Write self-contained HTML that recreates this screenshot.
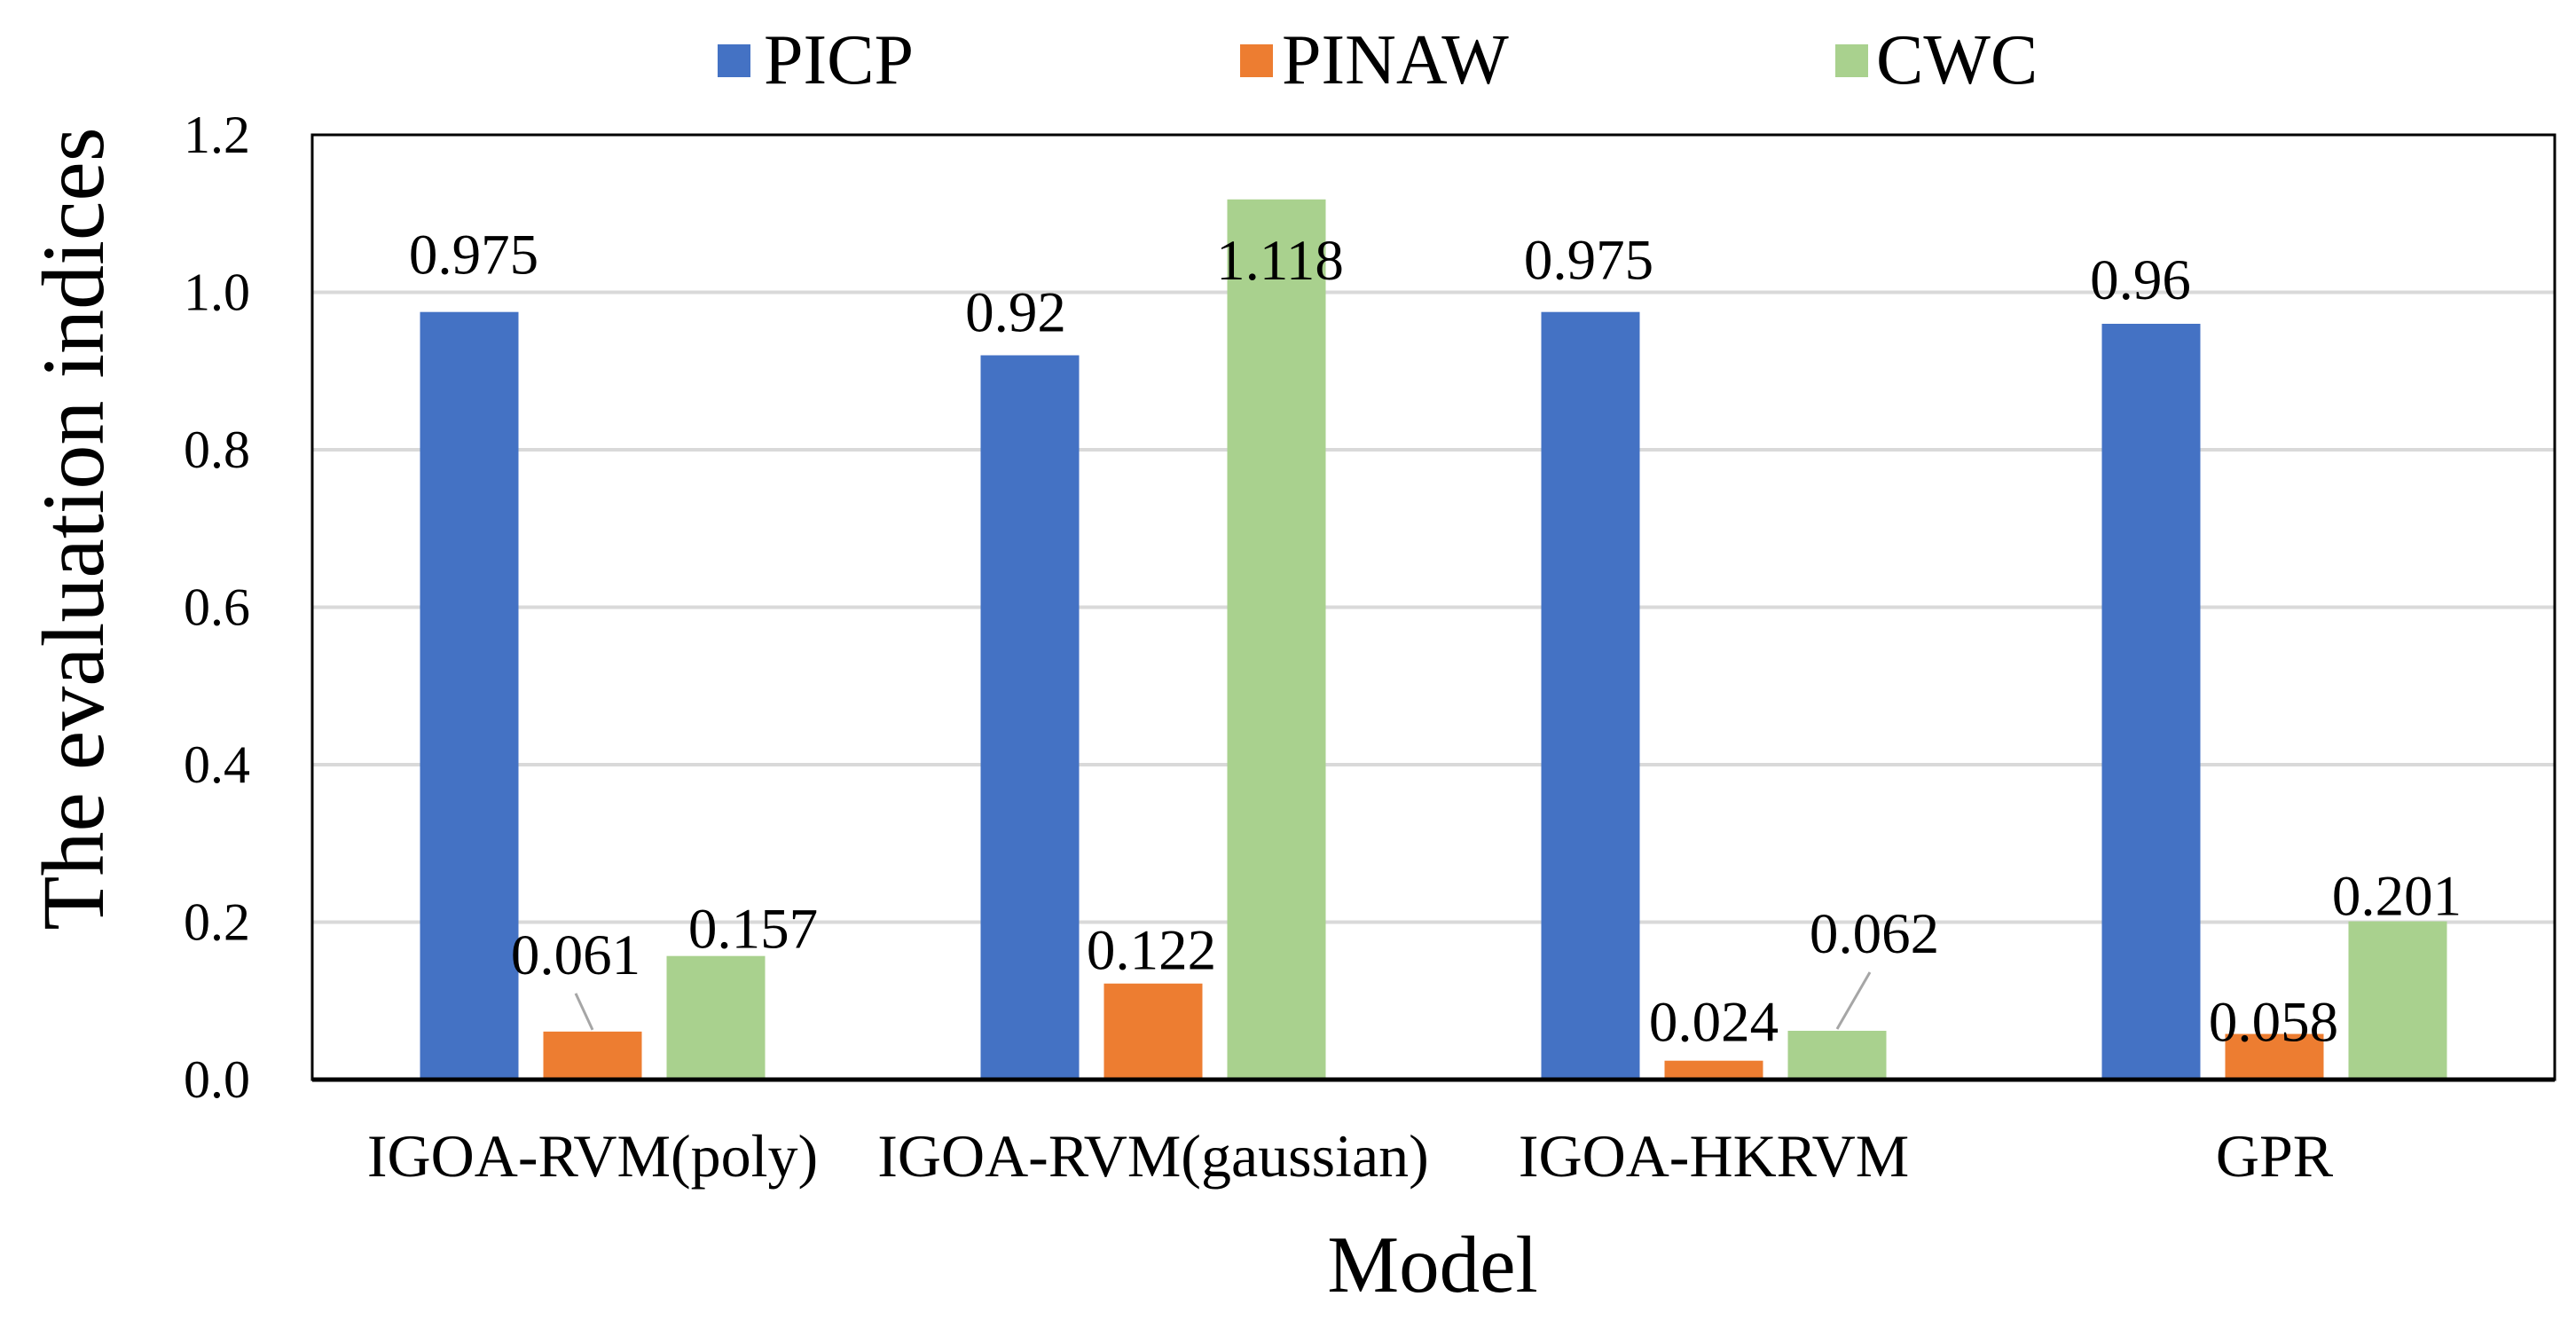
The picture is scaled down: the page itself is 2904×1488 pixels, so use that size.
<!DOCTYPE html>
<html><head><meta charset="utf-8"><style>
html,body{margin:0;padding:0;background:#fff;}
svg{display:block;font-family:"Liberation Serif",serif;}
</style></head><body>
<svg id="chart" width="2904" height="1488" viewBox="0 0 2904 1488" xmlns="http://www.w3.org/2000/svg">
<g id="grid"></g><g id="bars"></g><g id="labels"></g><g id="axes"></g>
<g>
 <rect x="809" y="50" width="37" height="37" fill="#4472C4"/>
 <text x="861" y="94" font-size="80">PICP</text>
 <rect x="1398" y="50" width="37" height="37" fill="#ED7D31"/>
 <text x="1445" y="94" font-size="80">PINAW</text>
 <rect x="2069" y="50" width="37" height="37" fill="#A9D18E"/>
 <text x="2115" y="94" font-size="80">CWC</text>
</g>
<text x="1615" y="1456" font-size="91" text-anchor="middle">Model</text>
<text transform="translate(116,596) rotate(-90)" font-size="100" text-anchor="middle">The evaluation indices</text>
</svg>
<script>
const categories = ["IGOA-RVM(poly)","IGOA-RVM(gaussian)","IGOA-HKRVM","GPR"];
const picp = [0.975,0.92,0.975,0.96];
const pinaw = [0.061,0.122,0.024,0.058];
const cwc = [0.157,1.118,0.062,0.201];
const yTicks = [0,0.2,0.4,0.6,0.8,1.0,1.2];
const tickLabels = ["0.0","0.2","0.4","0.6","0.8","1.0","1.2"];

const NS="http://www.w3.org/2000/svg";
const L=352,R=2880,T=152,B=1217,yMax=1.2;
const y=v=>B-(v/yMax)*(B-T);
const gw=(R-L)/categories.length;
const bw=111, stride=139;
const bx=(i,s)=>L+i*gw+gw/2+(s-1)*stride;
function mk(tag,attrs,parent){const e=document.createElementNS(NS,tag);for(const k in attrs)e.setAttribute(k,attrs[k]);parent.appendChild(e);return e;}
const grid=document.getElementById('grid'),bars=document.getElementById('bars'),labels=document.getElementById('labels'),axes=document.getElementById('axes');
yTicks.forEach((t,i)=>{
  if(t>0&&t<yMax){const g=mk('line',{x1:L,x2:R,y1:y(t),y2:y(t),stroke:'#d9d9d9','stroke-width':4},grid);
  
  }
  const tx=mk('text',{x:282,y:y(t)+20,'font-size':60,'text-anchor':'end'},axes);tx.textContent=tickLabels[i];
  
  
});
const series=[picp,pinaw,cwc],colors=["#4472C4","#ED7D31","#A9D18E"],names=["picp","pinaw","cwc"];
const offs=[[[5,-43],[-19,-65],[42,-9]],[[-16,-27],[-2,-16],[4,90]],[[-2,-37],[0,-22],[42,-88]],[[-12,-28],[-1,8],[-1,-7]]];
categories.forEach((c,i)=>{
  series.forEach((arr,s)=>{
    const cx=bx(i,s),top=y(arr[i]);
    const r=mk('rect',{x:cx-bw/2,y:top,width:bw,height:B-top,fill:colors[s]},bars);
    
    
    const o=offs[i][s];
    const t=mk('text',{x:cx+o[0],y:top+o[1],'font-size':65,'text-anchor':'middle'},labels);
    t.textContent=String(arr[i]);
    
    
    if((i==0&&s==1)||(i==2&&s==2)){
      const ln=mk('line',{x1:cx+o[0]+(s==2?-5:0),y1:top+o[1]+22,x2:cx,y2:top-2,stroke:'#a6a6a6','stroke-width':3},labels);
      
      
    }
  });
  const ct=mk('text',{x:L+i*gw+gw/2,y:1326,'font-size':68,'text-anchor':'middle'},axes);
  ct.textContent=c;
  
  
});
const fr=mk('rect',{x:L,y:T,width:R-L,height:B-T,fill:'none',stroke:'#000','stroke-width':3},axes);


const xa=mk('line',{x1:L,x2:R,y1:B,y2:B,stroke:'#000','stroke-width':5},axes);


</script>
</body></html>
